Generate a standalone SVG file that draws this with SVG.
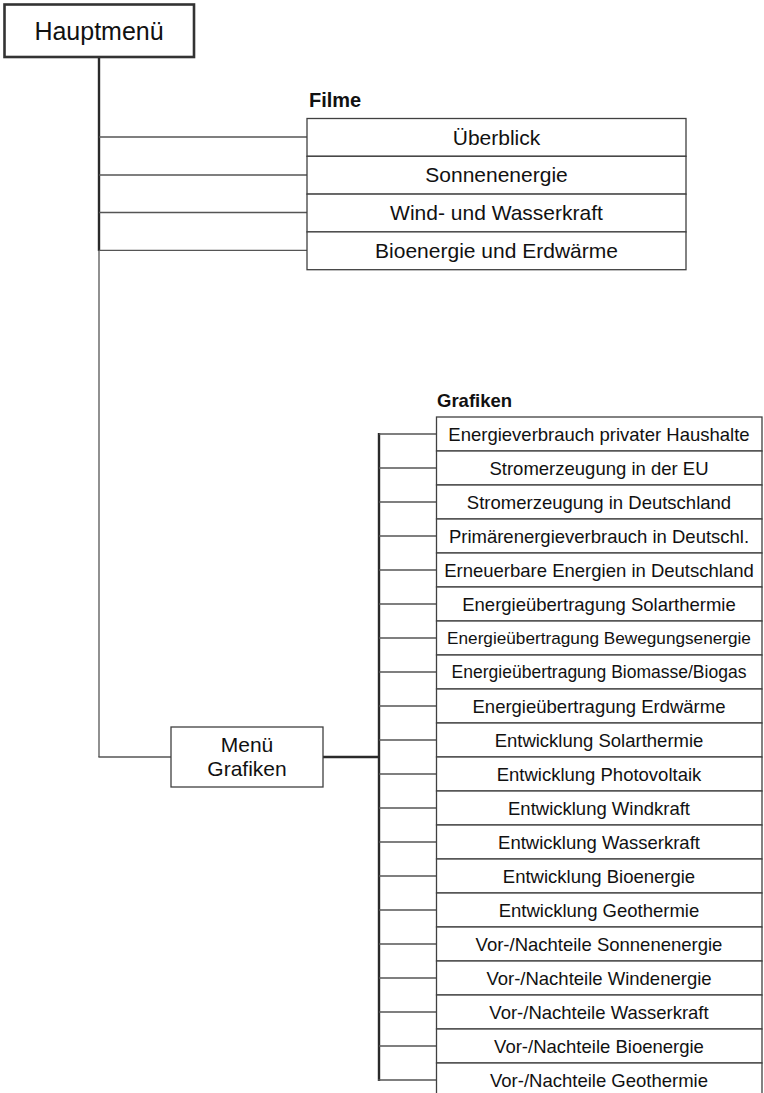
<svg xmlns="http://www.w3.org/2000/svg" width="764" height="1093" viewBox="0 0 764 1093">
<style>
  text { font-family: "Liberation Sans", Arial, sans-serif; fill: #111; }
  .box { fill: #fff; stroke: #404040; stroke-width: 1.3; }
  .main { fill: #fff; stroke: #333; stroke-width: 2.6; }
  .thin { stroke: #555; stroke-width: 1.3; fill: none; }
  .thick { stroke: #2a2a2a; stroke-width: 2.4; fill: none; }
  .f { font-size: 21px; text-anchor: middle; }
  .g { font-size: 18.5px; text-anchor: middle; }
  .hdr { font-weight: bold; }
</style>
<rect width="764" height="1093" fill="#fff"/>
<g id="connectors">
  <line class="thick" x1="99" y1="57" x2="99" y2="251"/>
  <line class="thin" x1="99" y1="250" x2="99" y2="757"/>
  <line class="thin" x1="98.4" y1="757" x2="171" y2="757"/>
  <line class="thin" x1="99" y1="137" x2="307" y2="137"/>
  <line class="thin" x1="99" y1="175" x2="307" y2="175"/>
  <line class="thin" x1="99" y1="212.5" x2="307" y2="212.5"/>
  <line class="thin" x1="99" y1="250.3" x2="307" y2="250.3"/>
  <line class="thick" x1="323" y1="757" x2="379" y2="757"/>
  <line class="thick" x1="379" y1="433" x2="379" y2="1081"/>
  <g class="thin">
    <line x1="379" y1="434" x2="436.5" y2="434"/>
    <line x1="379" y1="468" x2="436.5" y2="468"/>
    <line x1="379" y1="502" x2="436.5" y2="502"/>
    <line x1="379" y1="536" x2="436.5" y2="536"/>
    <line x1="379" y1="570" x2="436.5" y2="570"/>
    <line x1="379" y1="604" x2="436.5" y2="604"/>
    <line x1="379" y1="638" x2="436.5" y2="638"/>
    <line x1="379" y1="672" x2="436.5" y2="672"/>
    <line x1="379" y1="706" x2="436.5" y2="706"/>
    <line x1="379" y1="740" x2="436.5" y2="740"/>
    <line x1="379" y1="774" x2="436.5" y2="774"/>
    <line x1="379" y1="808" x2="436.5" y2="808"/>
    <line x1="379" y1="842" x2="436.5" y2="842"/>
    <line x1="379" y1="876" x2="436.5" y2="876"/>
    <line x1="379" y1="910" x2="436.5" y2="910"/>
    <line x1="379" y1="944" x2="436.5" y2="944"/>
    <line x1="379" y1="978" x2="436.5" y2="978"/>
    <line x1="379" y1="1012" x2="436.5" y2="1012"/>
    <line x1="379" y1="1046" x2="436.5" y2="1046"/>
    <line x1="378" y1="1080" x2="436.5" y2="1080"/>
  </g>
</g>
<g id="hauptmenu">
  <rect class="main" x="4.5" y="4.5" width="189.5" height="52.5"/>
  <text x="99" y="40" font-size="25" text-anchor="middle">Hauptmenü</text>
</g>
<g id="filme">
  <text class="hdr" x="309" y="107" font-size="20">Filme</text>
  <g id="f1"><rect class="box" x="307" y="118.5" width="379" height="37.8"/><text class="f" x="496.5" y="144.5">Überblick</text></g>
  <g id="f2"><rect class="box" x="307" y="156.3" width="379" height="37.8"/><text class="f" x="496.5" y="182.3">Sonnenenergie</text></g>
  <g id="f3"><rect class="box" x="307" y="194.1" width="379" height="37.8"/><text class="f" x="496.5" y="220.1">Wind- und Wasserkraft</text></g>
  <g id="f4"><rect class="box" x="307" y="231.9" width="379" height="37.8"/><text class="f" x="496.5" y="257.9">Bioenergie und Erdwärme</text></g>
</g>
<g id="menu-grafiken">
  <rect class="box" x="171" y="727" width="152" height="60"/>
  <text class="f" x="247" y="752">Menü</text>
  <text class="f" x="247" y="776">Grafiken</text>
</g>
<g id="grafiken">
  <text class="hdr" x="437" y="407" font-size="18.5">Grafiken</text>
  <g id="g1"><rect class="box" x="436.5" y="417" width="325.5" height="34"/><text class="g" x="599" y="440.5">Energieverbrauch privater Haushalte</text></g>
  <g id="g2"><rect class="box" x="436.5" y="451" width="325.5" height="34"/><text class="g" x="599" y="474.5">Stromerzeugung in der EU</text></g>
  <g id="g3"><rect class="box" x="436.5" y="485" width="325.5" height="34"/><text class="g" x="599" y="508.5">Stromerzeugung in Deutschland</text></g>
  <g id="g4"><rect class="box" x="436.5" y="519" width="325.5" height="34"/><text class="g" x="599" y="542.5">Primärenergieverbrauch in Deutschl.</text></g>
  <g id="g5"><rect class="box" x="436.5" y="553" width="325.5" height="34"/><text class="g" x="599" y="576.5">Erneuerbare Energien in Deutschland</text></g>
  <g id="g6"><rect class="box" x="436.5" y="587" width="325.5" height="34"/><text class="g" x="599" y="610.5">Energieübertragung Solarthermie</text></g>
  <g id="g7"><rect class="box" x="436.5" y="621" width="325.5" height="34"/><text class="g" x="599" y="644.3" style="font-size:17.2px">Energieübertragung Bewegungsenergie</text></g>
  <g id="g8"><rect class="box" x="436.5" y="655" width="325.5" height="34"/><text class="g" x="599" y="678.3" style="font-size:17.5px">Energieübertragung Biomasse/Biogas</text></g>
  <g id="g9"><rect class="box" x="436.5" y="689" width="325.5" height="34"/><text class="g" x="599" y="712.5">Energieübertragung Erdwärme</text></g>
  <g id="g10"><rect class="box" x="436.5" y="723" width="325.5" height="34"/><text class="g" x="599" y="746.5">Entwicklung Solarthermie</text></g>
  <g id="g11"><rect class="box" x="436.5" y="757" width="325.5" height="34"/><text class="g" x="599" y="780.5">Entwicklung Photovoltaik</text></g>
  <g id="g12"><rect class="box" x="436.5" y="791" width="325.5" height="34"/><text class="g" x="599" y="814.5">Entwicklung Windkraft</text></g>
  <g id="g13"><rect class="box" x="436.5" y="825" width="325.5" height="34"/><text class="g" x="599" y="848.5">Entwicklung Wasserkraft</text></g>
  <g id="g14"><rect class="box" x="436.5" y="859" width="325.5" height="34"/><text class="g" x="599" y="882.5">Entwicklung Bioenergie</text></g>
  <g id="g15"><rect class="box" x="436.5" y="893" width="325.5" height="34"/><text class="g" x="599" y="916.5">Entwicklung Geothermie</text></g>
  <g id="g16"><rect class="box" x="436.5" y="927" width="325.5" height="34"/><text class="g" x="599" y="950.5">Vor-/Nachteile Sonnenenergie</text></g>
  <g id="g17"><rect class="box" x="436.5" y="961" width="325.5" height="34"/><text class="g" x="599" y="984.5">Vor-/Nachteile Windenergie</text></g>
  <g id="g18"><rect class="box" x="436.5" y="995" width="325.5" height="34"/><text class="g" x="599" y="1018.5">Vor-/Nachteile Wasserkraft</text></g>
  <g id="g19"><rect class="box" x="436.5" y="1029" width="325.5" height="34"/><text class="g" x="599" y="1052.5">Vor-/Nachteile Bioenergie</text></g>
  <g id="g20"><rect class="box" x="436.5" y="1063" width="325.5" height="34"/><text class="g" x="599" y="1086.5">Vor-/Nachteile Geothermie</text></g>
</g>
</svg>
